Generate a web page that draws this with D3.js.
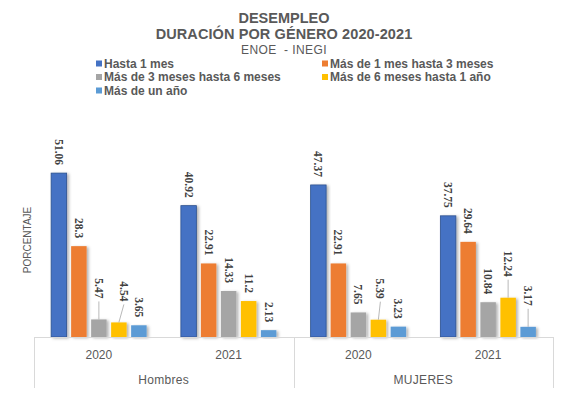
<!DOCTYPE html>
<html>
<head>
<meta charset="utf-8">
<script src="https://cdn.jsdelivr.net/npm/d3@7"></script>
<style>
  html, body { margin: 0; padding: 0; background: #ffffff; }
  svg { display: block; }
</style>
</head>
<body>
<div id="chart"></div>
<script>
// ---------- DATA ----------
const titleLines = ["DESEMPLEO", "DURACIÓN POR GÉNERO 2020-2021"];
const subtitle = "ENOE  - INEGI";
const yAxisTitle = "PORCENTAJE";
const genders = ["Hombres", "MUJERES"];
const years = ["2020", "2021"];
const seriesNames = [
  "Hasta 1 mes",
  "Más de 1 mes hasta 3 meses",
  "Más de 3 meses hasta 6 meses",
  "Más de 6 meses hasta 1 año",
  "Más de un año"
];
const hombres2020 = [51.06, 28.3, 5.47, 4.54, 3.65];
const hombres2021 = [40.92, 22.91, 14.33, 11.2, 2.13];
const mujeres2020 = [47.37, 22.91, 7.65, 5.39, 3.23];
const mujeres2021 = [37.75, 29.64, 10.84, 12.24, 3.17];

// ---------- STYLE ----------
const colors = ["#4472C4", "#ED7D31", "#A5A5A5", "#FFC000", "#5B9BD5"];
const W = 567, H = 396;
const plot = { left: 34, right: 553, bottom: 337, top: 144.4 };
// labels pulled up with leader lines (group index, series index, x shift)
const leaderLabels = [
  { g: 0, s: 2, dx: 0 }, { g: 0, s: 3, dx: 5 },
  { g: 2, s: 3, dx: 2 }, { g: 3, s: 3, dx: 0 }, { g: 3, s: 4, dx: 0 }
];

const groups = [
  { gender: genders[0], year: years[0], values: hombres2020 },
  { gender: genders[0], year: years[1], values: hombres2021 },
  { gender: genders[1], year: years[0], values: mujeres2020 },
  { gender: genders[1], year: years[1], values: mujeres2021 }
];

const svg = d3.select("#chart").append("svg").attr("width", W).attr("height", H);
const defs = svg.append("defs");
const f = defs.append("filter").attr("id", "shadow")
  .attr("x", "-30%").attr("y", "-10%").attr("width", "160%").attr("height", "130%");
f.append("feDropShadow").attr("dx", 2).attr("dy", 1).attr("stdDeviation", 1.5)
  .attr("flood-color", "#000").attr("flood-opacity", 0.3);

const sans = "'Liberation Sans', Arial, sans-serif";
const serif = "'Liberation Serif', 'Times New Roman', serif";
const textGray = "#595959";

// titles
svg.append("text").attr("x", 284).attr("y", 22.5).attr("text-anchor", "middle")
  .attr("font-family", sans).attr("font-weight", "bold").attr("font-size", 14.5)
  .attr("fill", textGray).text(titleLines[0]);
svg.append("text").attr("x", 284).attr("y", 39).attr("text-anchor", "middle")
  .attr("font-family", sans).attr("font-weight", "bold").attr("font-size", 14.5)
  .attr("letter-spacing", 0.1)
  .attr("fill", textGray).text(titleLines[1]);
svg.append("text").attr("x", 284).attr("y", 53.5).attr("text-anchor", "middle")
  .attr("font-family", sans).attr("font-size", 12).attr("letter-spacing", 0.4)
  .attr("fill", textGray).attr("xml:space", "preserve").style("white-space", "pre").text(subtitle);

// legend
const legendPos = [[96, 63.5], [322, 63.5], [96, 77], [322, 77], [96, 90.5]];
const leg = svg.append("g");
seriesNames.forEach((name, i) => {
  const [lx, ly] = legendPos[i];
  leg.append("rect").attr("x", lx).attr("y", ly - 3).attr("width", 6).attr("height", 6)
    .attr("fill", colors[i]);
  leg.append("text").attr("x", lx + 8).attr("y", ly).attr("dy", "0.35em")
    .attr("font-family", sans).attr("font-weight", "bold").attr("font-size", 12)
    .attr("fill", textGray).text(name);
});

// scales
const x0 = d3.scaleBand().domain(d3.range(groups.length)).range([plot.left, plot.right]).padding(0);
const x1 = d3.scaleBand().domain(d3.range(seriesNames.length)).range([0, x0.bandwidth()])
  .paddingInner(0.225).paddingOuter(0.856);
const y = d3.scaleLinear().domain([0, 60]).range([plot.bottom, plot.top]);

// bars
const gBars = svg.append("g");
groups.forEach((grp, gi) => {
  grp.values.forEach((v, si) => {
    gBars.append("rect")
      .attr("x", x0(gi) + x1(si)).attr("width", x1.bandwidth())
      .attr("y", y(v)).attr("height", y(0) - y(v))
      .attr("fill", colors[si])
      .attr("stroke", si === 0 ? "#2F528F" : "none").attr("stroke-width", si === 0 ? 0.8 : 0)
      .attr("filter", "url(#shadow)");
  });
});

// data labels
const gLab = svg.append("g");
groups.forEach((grp, gi) => {
  grp.values.forEach((v, si) => {
    const cx = x0(gi) + x1(si) + x1.bandwidth() / 2;
    const top = y(v);
    const lead = leaderLabels.find(d => d.g === gi && d.s === si);
    const lift = lead ? 21 : 8;
    const lx = cx + (lead ? lead.dx : 0);
    const ly = top - lift;
    if (lead) {
      gLab.append("line").attr("x1", lx).attr("y1", ly + 3).attr("x2", cx).attr("y2", top)
        .attr("stroke", "#A6A6A6").attr("stroke-width", 0.8);
    }
    gLab.append("text")
      .attr("transform", `translate(${lx},${ly}) rotate(90)`)
      .attr("text-anchor", "end").attr("dy", "0.35em")
      .attr("font-family", serif).attr("font-weight", "bold").attr("font-size", 11.5)
      .attr("fill", "#404040").text(String(v));
  });
});

// category axis box
const axisColor = "#D9D9D9";
const gAx = svg.append("g").attr("stroke", axisColor).attr("stroke-width", 1);
gAx.append("line").attr("x1", plot.left).attr("x2", plot.right)
  .attr("y1", plot.bottom + 0.5).attr("y2", plot.bottom + 0.5);
[plot.left, (x0(1) + x0(2) + x0.bandwidth()) / 2, plot.right].forEach(xx => {
  const xv = Math.round(xx) + 0.5;
  gAx.append("line").attr("x1", xv).attr("x2", xv).attr("y1", plot.bottom).attr("y2", 388);
});
// year labels
groups.forEach((grp, gi) => {
  svg.append("text").attr("x", x0(gi) + x0.bandwidth() / 2).attr("y", 355).attr("dy", "0.35em")
    .attr("text-anchor", "middle").attr("font-family", sans).attr("font-size", 12)
    .attr("fill", textGray).text(grp.year);
});
// gender labels
genders.forEach((gname, k) => {
  const cx = (x0(2 * k) + x0(2 * k + 1) + x0.bandwidth()) / 2;
  svg.append("text").attr("x", cx).attr("y", 380).attr("dy", "0.35em")
    .attr("text-anchor", "middle").attr("font-family", sans).attr("font-size", 12)
    .attr("letter-spacing", 0.3).attr("fill", textGray).text(gname);
});

// y axis title
svg.append("text").attr("transform", "translate(27,240) rotate(-90)")
  .attr("text-anchor", "middle").attr("dy", "0.35em")
  .attr("font-family", sans).attr("font-size", 10).attr("fill", textGray).text(yAxisTitle);
</script>
</body>
</html>
